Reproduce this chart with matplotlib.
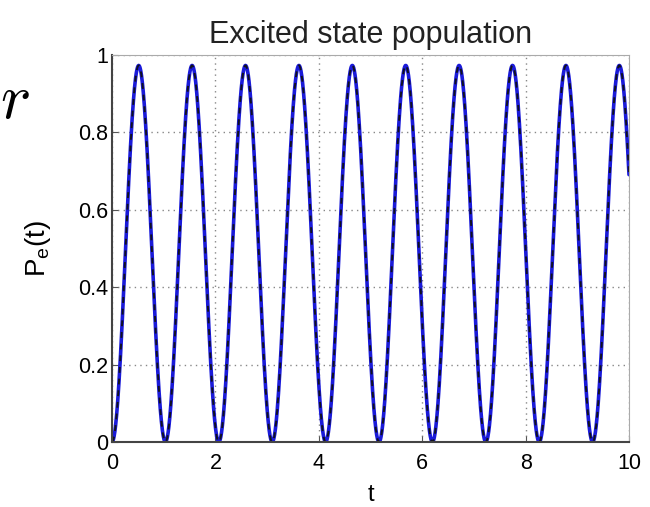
import numpy as np
import matplotlib
matplotlib.use("Agg")
import matplotlib.pyplot as plt

# Values (Rabi oscillation parameters)
rabi_frequency = 6.0      # Omega
detuning = 1.0            # Delta
t_start, t_end = 0.0, 10.0
n_samples = 2001

x_ticks = [0, 2, 4, 6, 8, 10]
x_tick_labels = ["0", "2", "4", "6", "8", "10"]
y_ticks = [0, 0.2, 0.4, 0.6, 0.8, 1]
y_tick_labels = ["0", "0.2", "0.4", "0.6", "0.8", "1"]

title_text = "Excited state population"
x_label = "t"
y_label = r"P$_{\mathrm{e}}$(t)"

t = np.linspace(t_start, t_end, n_samples)
W = np.sqrt(rabi_frequency**2 + detuning**2)
p_excited = (rabi_frequency**2 / W**2) * np.sin(W * t / 2) ** 2

plt.rcParams['font.family'] = ['Liberation Sans', 'DejaVu Sans']
plt.rcParams['mathtext.fontset'] = 'custom'
plt.rcParams['mathtext.rm'] = 'Liberation Sans'

fig = plt.figure(figsize=(6.5, 5.07), dpi=100)
ax = fig.add_axes([112/650, 1-442/507, (629-112)/650, (442-55)/507])

ax.plot(t, p_excited, color=(0.1, 0.1, 0.85), lw=2.6, solid_capstyle='round')
ax.plot(t, p_excited, color='#101020', lw=1.4, ls=(0, (3, 3)))

ax.set_xlim(0, 10)
ax.set_ylim(0, 1)
ax.set_xticks(x_ticks)
ax.set_xticklabels(x_tick_labels)
ax.set_yticks(y_ticks)
ax.set_yticklabels(y_tick_labels)
ax.tick_params(direction='in', length=4, labelsize=15.5, color='#555555', pad=3)
ax.tick_params(axis='x', pad=8)
ax.grid(True, ls=(0, (1, 3)), color='#888888', lw=1.0)
for side in ['top', 'right']:
    ax.spines[side].set_color('#aaaaaa')
for side in ['left', 'bottom']:
    ax.spines[side].set_color('#444444')
    ax.spines[side].set_linewidth(1.5)

ax.set_title(title_text, fontsize=22, color='#222222', pad=9)
ax.set_xlabel(x_label, fontsize=17, labelpad=7)
ax.set_ylabel(y_label, fontsize=20, labelpad=18)

fig.text(0.0, 0.80, r'$r$', fontsize=46, math_fontfamily='cm', ha='left', va='center')

fig.savefig("out.png", dpi=100)
